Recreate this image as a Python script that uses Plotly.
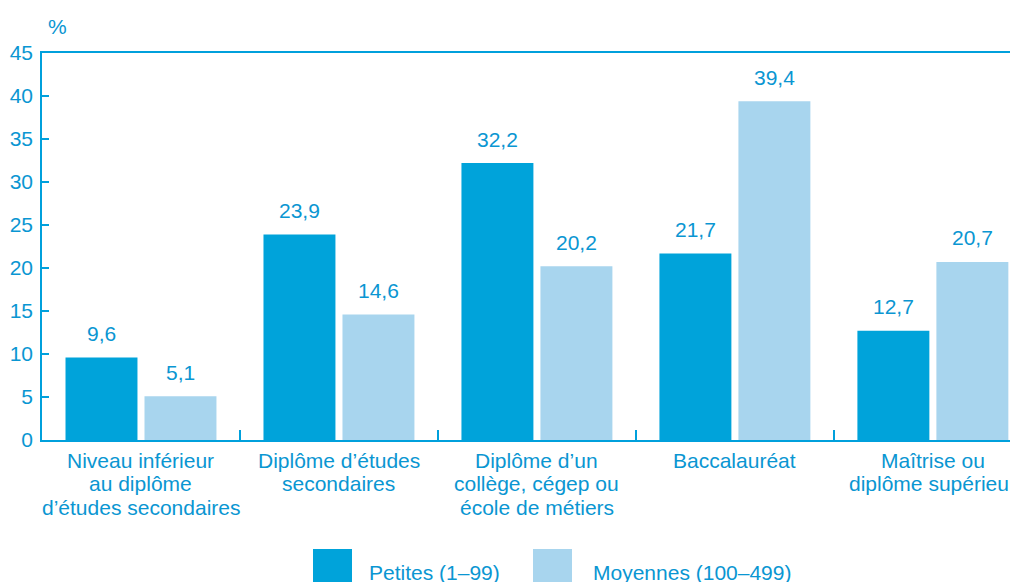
import plotly.graph_objects as go

categories = [
    "Niveau inférieur<br>au diplôme<br>d’études secondaires",
    "Diplôme d’études<br>secondaires",
    "Diplôme d’un<br>collège, cégep ou<br>école de métiers",
    "Baccalauréat",
    "Maîtrise ou<br>diplôme supérieur",
]
series_names = ["Petites (1–99)", "Moyennes (100–499)"]
petites = [9.6, 23.9, 32.2, 21.7, 12.7]
moyennes = [5.1, 14.6, 20.2, 39.4, 20.7]
y_ticks = [0, 5, 10, 15, 20, 25, 30, 35, 40, 45]

colors = ["#00a3da", "#a8d5ee"]
text_color = "#0a96d2"
axis_color = "#00a0dc"
font_family = "Arial, Liberation Sans, sans-serif"

OFF = 8  # default page body margin
W, H = 1018 - OFF, 582 - OFF
ML, MT, MB, MR = 42 - OFF, 53 - OFF, 582 - 440, 0
pw = W - ML - MR
ph = H - MT - MB

def px_x(px):
    return (px - OFF - ML) / pw

def px_y(py):
    return (H - MB - (py - OFF)) / ph

fig = go.Figure()
for name, vals, col in zip(series_names, [petites, moyennes], colors):
    fig.add_trace(go.Bar(
        x=categories, y=vals, name=name, marker=dict(color=col, line=dict(width=0)),
        showlegend=False, hoverinfo="y",
    ))

annotations = []
# value labels
for vals, shift in [(petites, -39.5), (moyennes, 39.5)]:
    for c, v in zip(categories, vals):
        annotations.append(dict(
            x=c, y=v, xref="x", yref="y", text=f"{v:.1f}".replace(".", ","),
            showarrow=False, xshift=shift, yshift=24, yanchor="middle",
            font=dict(size=21, color=text_color, family=font_family),
        ))

# category labels (one annotation per line for tighter line spacing)
for c in categories:
    for i, line in enumerate(c.split("<br>")):
        annotations.append(dict(
            x=c, y=0, xref="x", yref="y", text=line, showarrow=False,
            xanchor="center", yanchor="middle", yshift=-(20 + 23.5 * i),
            font=dict(size=21, color=text_color, family=font_family),
        ))

# % label
annotations.append(dict(
    x=px_x(57), y=px_y(27), xref="paper", yref="paper", text="%", showarrow=False,
    xanchor="center", yanchor="middle",
    font=dict(size=21, color=text_color, family=font_family),
))

# custom legend
shapes = []
legend_boxes = [(313, 352, 367), (533, 572, 591)]
for (x0, x1, tx), name, col in zip(legend_boxes, series_names, colors):
    shapes.append(dict(type="rect", xref="paper", yref="paper",
                       x0=px_x(x0), x1=px_x(x1), y0=px_y(549), y1=px_y(600),
                       fillcolor=col, line=dict(width=0)))
    annotations.append(dict(
        x=px_x(tx), y=px_y(572), xref="paper", yref="paper", text=name,
        showarrow=False, xanchor="left", yanchor="middle",
        font=dict(size=21, color=text_color, family=font_family),
    ))

fig.update_layout(
    width=W, height=H, autosize=False,
    margin=dict(l=ML, r=MR, t=MT, b=MB, pad=0, autoexpand=False),
    paper_bgcolor="white", plot_bgcolor="white",
    barmode="group", bargap=0.202, bargroupgap=0.089,
    font=dict(family=font_family, size=21, color=text_color),
    annotations=annotations, shapes=shapes,
    showlegend=False,
)
fig.update_xaxes(
    range=[-0.5, 4.43], showline=True, linecolor=axis_color, linewidth=1.5,
    mirror=True, ticks="inside", tickson="boundaries", ticklen=10,
    tickcolor=axis_color, tickwidth=1.5, showgrid=False,
    showticklabels=False, automargin=False,
)
fig.update_yaxes(
    range=[0, 45], tickvals=y_ticks, showline=True, linecolor=axis_color,
    linewidth=1.5, ticks="inside", ticklen=7, tickcolor=axis_color, tickwidth=1.5,
    showgrid=False, zeroline=False, automargin=False, ticklabelstandoff=3,
    tickfont=dict(size=21, color=text_color, family=font_family),
)

fig.write_html("out.html")
